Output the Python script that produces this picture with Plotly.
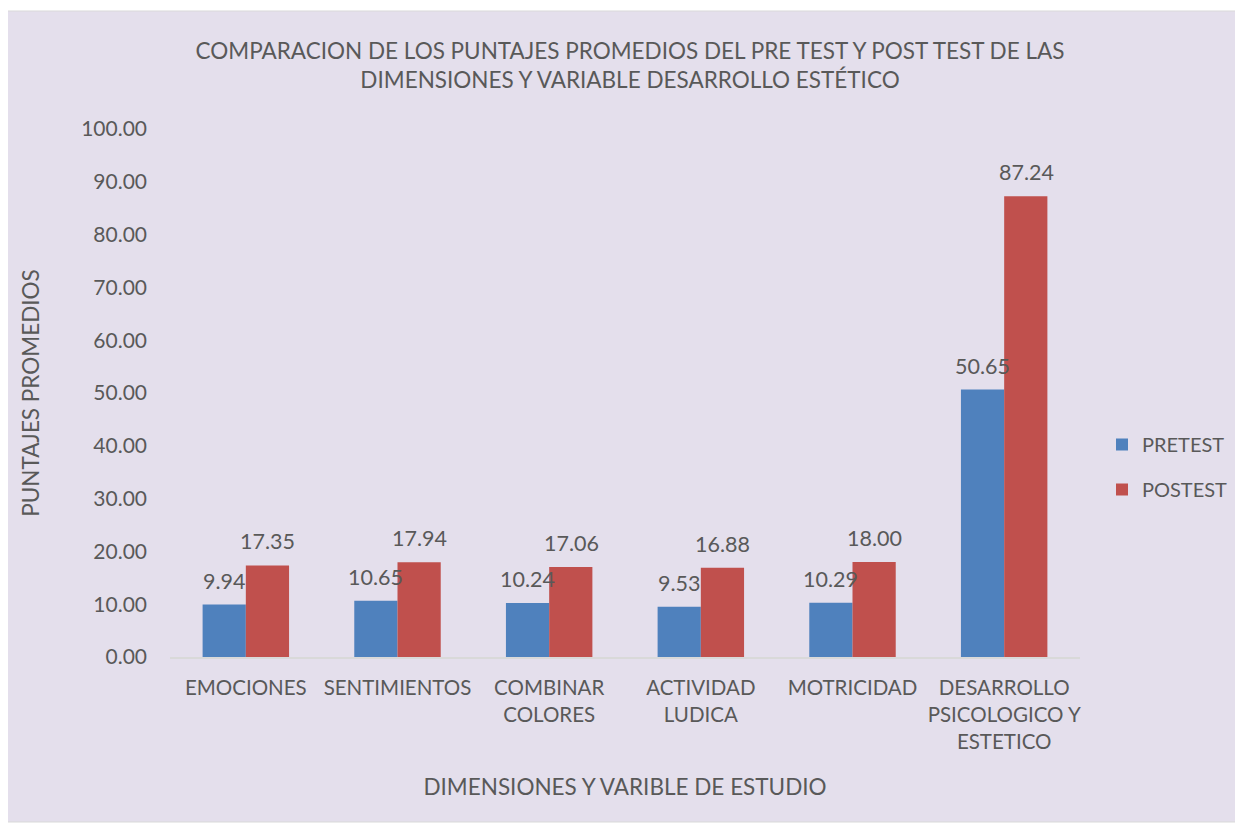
import plotly.graph_objects as go

categories = ["EMOCIONES", "SENTIMIENTOS", "COMBINAR<br>COLORES", "ACTIVIDAD<br>LUDICA",
              "MOTRICIDAD", "DESARROLLO<br>PSICOLOGICO Y<br>ESTETICO"]
pretest = [9.94, 10.65, 10.24, 9.53, 10.29, 50.65]
postest = [17.35, 17.94, 17.06, 16.88, 18.00, 87.24]
y_ticks = [0, 10, 20, 30, 40, 50, 60, 70, 80, 90, 100]

FONT = "Lato"
TXT = "#595959"
BLUE = "#4F81BD"
RED = "#C0504D"

fig = go.Figure()
fig.add_trace(go.Bar(x=categories, y=pretest, name="PRETEST", marker_color=BLUE,
                     marker_line_width=0, legendgroup="a"))
fig.add_trace(go.Bar(x=categories, y=postest, name="POSTEST", marker_color=RED,
                     marker_line_width=0, legendgroup="b"))

# page body has an 8px margin; figure coordinates = screen - 8
W, H = 1235, 821
L, T = 162, 121
pw, ph = 910, 528
R, B = W - L - pw, H - T - ph

def px_x(x):
    return (x - L) / pw

def px_y(y):
    return (T + ph - y) / ph

annotations = []
for c, v in zip(categories, pretest):
    annotations.append(dict(x=c, y=v, text=f"{v:.2f}", showarrow=False, xref="x", yref="y",
                            xshift=-22, yanchor="bottom", yshift=9,
                            font=dict(size=21.5, color=TXT, family=FONT)))
for c, v in zip(categories, postest):
    annotations.append(dict(x=c, y=v, text=f"{v:.2f}", showarrow=False, xref="x", yref="y",
                            xshift=22, yanchor="bottom", yshift=9,
                            font=dict(size=21.5, color=TXT, family=FONT)))

fig.update_layout(
    width=W, height=H,
    margin=dict(l=L, r=R, t=T, b=B, autoexpand=False),
    paper_bgcolor="white",
    plot_bgcolor="rgba(0,0,0,0)",
    font=dict(family=FONT, color=TXT, size=20),
    barmode="group",
    bargap=0.43,
    bargroupgap=0,
    title=dict(text="COMPARACION DE LOS PUNTAJES PROMEDIOS DEL PRE TEST Y POST TEST DE LAS<br>DIMENSIONES Y VARIABLE DESARROLLO ESTÉTICO",
               x=(630 - 8) / W, xanchor="center", y=1 - 51 / H, yanchor="middle",
               font=dict(size=22.5, color=TXT, family=FONT)),
    xaxis=dict(showline=True, linecolor="#D9D9D9", linewidth=1.5, ticks="",
               tickfont=dict(size=20.5, color=TXT), ticklabelstandoff=12,
               title=dict(text="DIMENSIONES Y VARIBLE DE ESTUDIO", font=dict(size=22.5, color=TXT), standoff=28)),
    yaxis=dict(range=[0, 100], tickvals=y_ticks, tickformat=".2f", showgrid=False,
               zeroline=False, showline=False, ticks="", ticklabelstandoff=22,
               tickfont=dict(size=21, color=TXT),
               title=dict(text="PUNTAJES PROMEDIOS", font=dict(size=22.5, color=TXT), standoff=35)),
    legend=dict(x=px_x(1094), y=px_y(417), xanchor="left", yanchor="top",
                font=dict(size=20, color=TXT), bgcolor="rgba(0,0,0,0)",
                tracegroupgap=16, itemsizing="constant"),
    annotations=annotations,
    shapes=[dict(type="rect", xref="paper", yref="paper", layer="below",
                 x0=px_x(-2), x1=px_x(1229),
                 y0=px_y(814), y1=px_y(3),
                 fillcolor="#E4DFEC", line=dict(color="#D9D9D9", width=1))],
)

fig.write_html("out.html")
